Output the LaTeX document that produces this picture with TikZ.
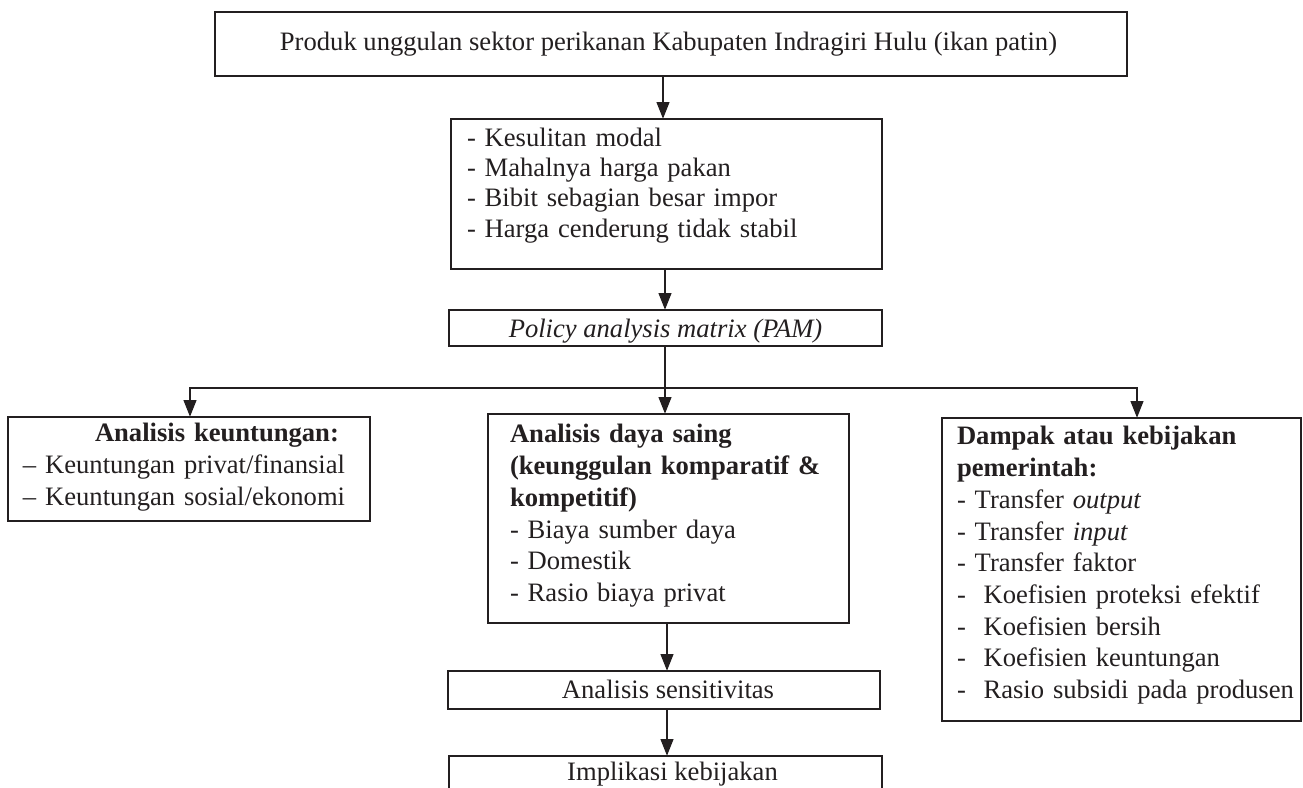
\documentclass[tikz,border=0pt]{standalone}
\usepackage{fontspec}
\setmainfont{Liberation Serif}
\usetikzlibrary{arrows.meta}
\definecolor{ink}{RGB}{35,31,32}
\begin{document}
\begin{tikzpicture}[x=1pt,y=-1pt,
  every node/.style={inner sep=0pt, outer sep=0pt, text=ink},
  boxnode/.style={draw=ink, line width=2.9pt, rectangle, anchor=north west},
  txt/.style={font=\fontsize{26.6}{31.7}\selectfont},
  listtxt/.style={font=\fontsize{26.6}{31.7}\selectfont, align=left, anchor=north west, text width=#1},
  conn/.style={draw=ink, line width=2.8pt, -{Triangle[length=17pt,width=12.5pt]}},
  conn2/.style={draw=ink, line width=2.8pt, {Triangle[length=17pt,width=12.5pt]}-{Triangle[length=17pt,width=12.5pt]}}
]
\useasboundingbox (0,0) rectangle (1303,787);

% boxes
\node[boxnode, minimum width=912pt, minimum height=64pt] (top) at (215,12) {};
\node[boxnode, minimum width=431pt, minimum height=150pt] (prob) at (451,119) {};
\node[boxnode, minimum width=433pt, minimum height=36pt] (pam) at (449,310) {};
\node[boxnode, minimum width=362pt, minimum height=104pt] (lb) at (8,417) {};
\node[boxnode, minimum width=361pt, minimum height=209pt] (mb) at (488,414) {};
\node[boxnode, minimum width=359pt, minimum height=303pt] (rb) at (942,418) {};
\node[boxnode, minimum width=432pt, minimum height=38pt] (sens) at (448,671) {};
\node[boxnode, minimum width=433pt, minimum height=60pt] (impl) at (449,756) {};

% texts
\node[txt, anchor=base] (topT) at (668.5,50) {Produk unggulan sektor perikanan Kabupaten Indragiri Hulu (ikan patin)};
\node[listtxt=400pt, font=\fontsize{26.6}{30.4}\selectfont] (probT) at (467,124.8) {\strut- Kesulitan modal\\- Mahalnya harga pakan\\- Bibit sebagian besar impor\\- Harga cenderung tidak stabil};
\node[txt, anchor=base] (pamT) at (665.5,337) {\itshape Policy analysis matrix (PAM)};
\node[listtxt=345pt] (lbT) at (23,419.8) {\strut\hspace*{72pt}\textbf{Analisis keuntungan:}\\\textendash{} Keuntungan privat/finansial\\\textendash{} Keuntungan sosial/ekonomi};
\node[listtxt=335pt] (mbT) at (510,420.8) {\strut\textbf{Analisis daya saing}\\\textbf{(keunggulan komparatif \&}\\\textbf{kompetitif)}\\- Biaya sumber daya\\- Domestik\\- Rasio biaya privat};
\node[listtxt=345pt] (rbT) at (957,422.8) {\strut\textbf{Dampak atau kebijakan}\\\textbf{pemerintah:}\\- Transfer \textit{output}\\- Transfer \textit{input}\\- Transfer faktor\\-\ \ Koefisien proteksi efektif\\-\ \ Koefisien bersih\\-\ \ Koefisien keuntungan\\-\ \ Rasio subsidi pada produsen};
\node[txt, anchor=base] (sensT) at (668,698) {Analisis sensitivitas};
\node[txt, anchor=base] (implT) at (672.5,780) {Implikasi kebijakan};

% connector reference coordinates
\coordinate (s1) at (663,0);
\coordinate (s2) at (665,0);
\coordinate (s3) at (667,0);
\coordinate (jl) at (190,388);
\coordinate (jr) at (1137,388);

\draw[conn] (top.south -| s1) -- (prob.north -| s1);
\draw[conn] (prob.south -| s2) -- (pam.north -| s2);
\draw[conn] (pam.south -| s2) -- (mb.north -| s2);
\draw[conn2] (lb.north -| jl) -- (jl) -- (jr) -- (rb.north -| jr);
\draw[conn] (mb.south -| s3) -- (sens.north -| s3);
\draw[conn] (sens.south -| s3) -- (impl.north -| s3);
\end{tikzpicture}
\end{document}
